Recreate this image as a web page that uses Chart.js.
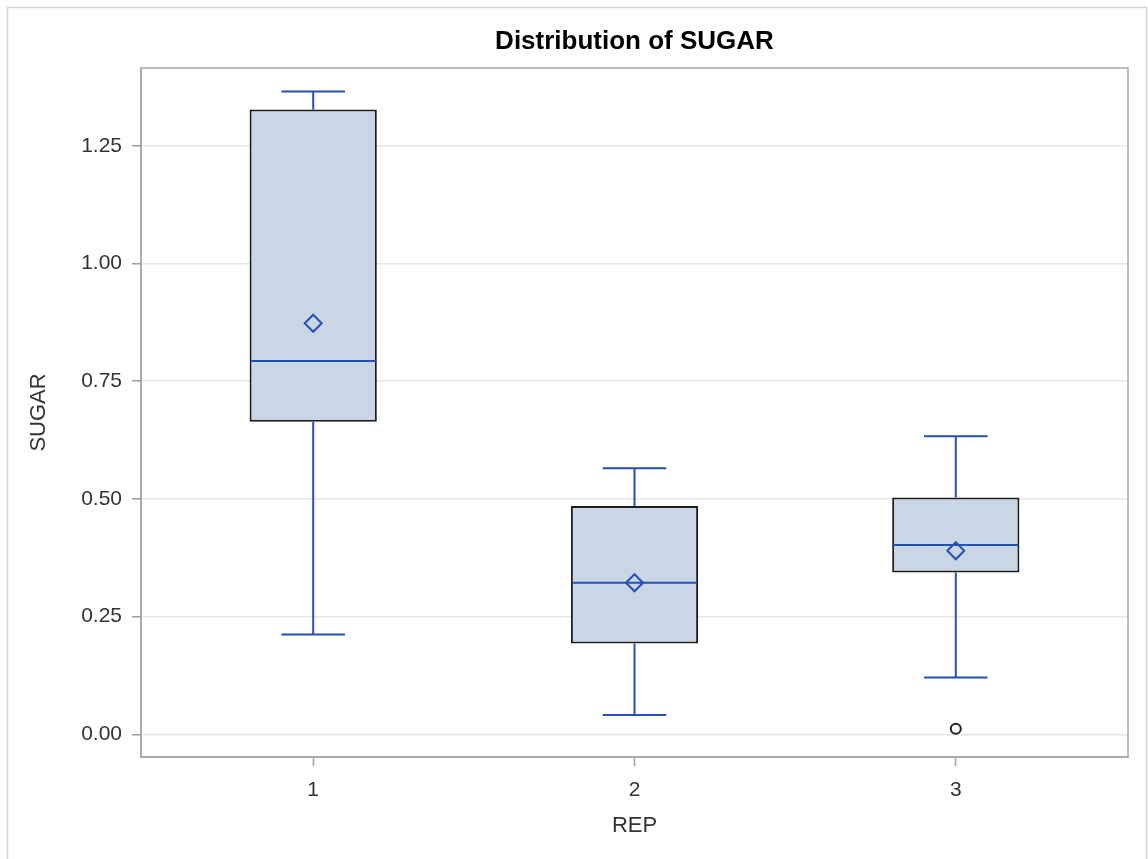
<!DOCTYPE html>
<html>
<head>
<meta charset="utf-8">
<title>Distribution of SUGAR</title>
<script src="https://cdn.jsdelivr.net/npm/chart.js@4/dist/chart.umd.min.js"></script>
<style>
  html, body { margin: 0; padding: 0; background: #fff; }
  #wrap { width: 1148px; height: 859px; position: relative; }
</style>
</head>
<body>
<div id="wrap"><canvas id="chart" width="1148" height="859"></canvas></div>
<script>
// Box-plot summary of SUGAR for each REP group
const reps = [1, 2, 3];
const q1 = [0.664, 0.193, 0.344];
const q3 = [1.327, 0.485, 0.503];
const medians = [0.793, 0.322, 0.402];
const means = [0.873, 0.322, 0.390];
const whiskerLow = [0.212, 0.041, 0.121];
const whiskerHigh = [1.365, 0.565, 0.633];
const outlierRep = [3];
const outlierValue = [0.012];
const yTicks = [0, 0.25, 0.5, 0.75, 1.0, 1.25];
const chartTitle = 'Distribution of SUGAR';

const BLUE = '#2451b3';
const FONT = "'Liberation Sans', Arial, sans-serif";

// Whiskers, caps and median lines, drawn right after the boxes
const whiskerPlugin = {
  id: 'whiskers',
  afterDatasetDraw(chart, args) {
    if (args.meta.type !== 'bar') return;
    const ctx = chart.ctx;
    const y = chart.scales.y;
    ctx.save();
    ctx.strokeStyle = BLUE;
    ctx.lineWidth = 2;
    args.meta.data.forEach((bar, i) => {
      const cx = bar.x;
      const half = bar.width / 2;
      const cap = bar.width / 4;
      const yHi = y.getPixelForValue(whiskerHigh[i]);
      const yLo = y.getPixelForValue(whiskerLow[i]);
      const yQ3 = y.getPixelForValue(q3[i]);
      const yQ1 = y.getPixelForValue(q1[i]);
      const yMed = y.getPixelForValue(medians[i]);
      ctx.beginPath();
      ctx.moveTo(cx, yQ3); ctx.lineTo(cx, yHi);
      ctx.moveTo(cx - cap, yHi); ctx.lineTo(cx + cap, yHi);
      ctx.moveTo(cx, yQ1); ctx.lineTo(cx, yLo);
      ctx.moveTo(cx - cap, yLo); ctx.lineTo(cx + cap, yLo);
      ctx.moveTo(cx - half + 1, yMed); ctx.lineTo(cx + half - 1, yMed);
      ctx.stroke();
    });
    ctx.restore();
  }
};

// Plot frame, outer border and a title centred over the plot area
const framePlugin = {
  id: 'frame',
  afterDraw(chart) {
    const { ctx, chartArea: a } = chart;
    ctx.save();
    ctx.strokeStyle = '#a4a7ab';
    ctx.lineWidth = 1.5;
    ctx.strokeRect(a.left, a.top, a.right - a.left, a.bottom - a.top);
    ctx.strokeStyle = '#d4d4d4';
    ctx.strokeRect(7.5, 7.5, 1139, 860);
    ctx.fillStyle = '#000';
    ctx.font = 'bold 26px ' + FONT;
    ctx.textAlign = 'center';
    ctx.textBaseline = 'middle';
    ctx.fillText(chartTitle, (a.left + a.right) / 2, 42);
    ctx.restore();
  }
};

new Chart(document.getElementById('chart'), {
  type: 'bar',
  data: {
    datasets: [
      {
        type: 'scatter',
        label: 'Mean',
        data: reps.map((r, i) => ({ x: r, y: means[i] })),
        pointStyle: 'rectRot',
        pointRadius: 8.5,
        pointBorderWidth: 2,
        pointBorderColor: BLUE,
        pointBackgroundColor: 'rgba(0,0,0,0)'
      },
      {
        type: 'scatter',
        label: 'Outlier',
        data: outlierRep.map((r, i) => ({ x: r, y: outlierValue[i] })),
        pointStyle: 'circle',
        pointRadius: 5,
        pointBorderWidth: 2,
        pointBorderColor: '#222',
        pointBackgroundColor: '#fff'
      },
      {
        type: 'bar',
        label: 'SUGAR',
        data: reps.map((r, i) => ({ x: r, y: [q1[i], q3[i]] })),
        backgroundColor: '#cad5e5',
        borderColor: '#1c1c1c',
        borderWidth: 2,
        borderSkipped: false,
        categoryPercentage: 1,
        barPercentage: 0.396
      }
    ]
  },
  options: {
    responsive: false,
    animation: false,
    events: [],
    layout: { padding: { left: 0, right: 20, top: 68, bottom: 0 } },
    plugins: {
      legend: { display: false },
      tooltip: { enabled: false },
      title: { display: false }
    },
    scales: {
      x: {
        type: 'linear',
        min: 0.464,
        max: 3.536,
        offset: false,
        afterBuildTicks(scale) { scale.ticks = reps.map(v => ({ value: v })); },
        afterFit(scale) { scale.height = 102; },
        ticks: {
          color: '#333',
          font: { family: FONT, size: 21 },
          padding: 12,
          maxRotation: 0,
          callback: v => String(v)
        },
        grid: {
          offset: false,
          drawOnChartArea: false,
          tickLength: 9,
          tickColor: '#9a9da1',
          tickWidth: 1.5
        },
        border: { display: true, color: '#a4a7ab', width: 1.5 },
        title: {
          display: true,
          text: 'REP',
          color: '#333',
          font: { family: FONT, size: 22, lineHeight: 1.2 },
          padding: { top: 0, bottom: 19.8 }
        }
      },
      y: {
        type: 'linear',
        min: -0.048,
        max: 1.415,
        afterBuildTicks(scale) { scale.ticks = yTicks.map(v => ({ value: v })); },
        afterFit(scale) { scale.width = 141; },
        ticks: {
          color: '#333',
          font: { family: FONT, size: 21 },
          padding: 10,
          callback: v => Number(v).toFixed(2)
        },
        grid: {
          color: '#e6e6e6',
          lineWidth: 1.5,
          tickLength: 9,
          tickColor: '#9a9da1',
          tickWidth: 1.5
        },
        border: { display: true, color: '#a4a7ab', width: 1.5 },
        title: {
          display: true,
          text: 'SUGAR',
          color: '#333',
          font: { family: FONT, size: 22, lineHeight: 1.2 },
          padding: { top: 25.8, bottom: 0 }
        }
      }
    }
  },
  plugins: [whiskerPlugin, framePlugin]
});
</script>
</body>
</html>
